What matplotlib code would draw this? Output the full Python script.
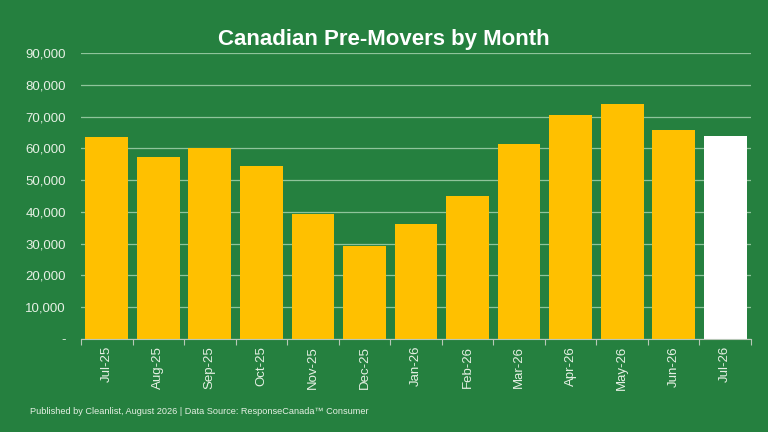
import matplotlib
matplotlib.use("Agg")
import matplotlib.pyplot as plt
from matplotlib.ticker import FuncFormatter, MultipleLocator

months = ["Jul-25", "Aug-25", "Sep-25", "Oct-25", "Nov-25", "Dec-25", "Jan-26",
          "Feb-26", "Mar-26", "Apr-26", "May-26", "Jun-26", "Jul-26"]
movers = [63600, 57300, 60200, 54500, 39300, 29400, 36100,
          45100, 61300, 70500, 73900, 65900, 63800]
highlight = "Jul-26"

BG = "#25803F"
BAR = "#FFC000"
GRID = "#8FC49B"
TXT = "#E6F0E4"

plt.rcParams["font.family"] = ["Liberation Sans", "DejaVu Sans"]

fig = plt.figure(figsize=(7.68, 4.32), dpi=100, facecolor=BG)
ax = fig.add_axes([81/768, 1 - 339/432, (751-81)/768, (339-53)/432])
ax.set_facecolor(BG)

colors = ["white" if m == highlight else BAR for m in months]
x = range(len(months))
ax.bar(x, movers, width=0.83, color=colors, zorder=3)

ax.set_xlim(-0.5, len(months) - 0.5)
ax.set_ylim(0, 90000)
ax.yaxis.set_major_locator(MultipleLocator(10000))
ax.yaxis.set_major_formatter(FuncFormatter(lambda v, p: "-" if v == 0 else f"{int(v):,}"))
ax.grid(axis="y", color=GRID, linewidth=0.9, zorder=0)
ax.set_axisbelow(True)

ax.set_xticks(list(x))
ax.set_xticklabels(months, rotation=90, fontsize=9.5, color=TXT)
ax.tick_params(axis="x", length=0, pad=5)
ax.set_xticks([i - 0.5 for i in range(len(months) + 1)], minor=True)
ax.tick_params(axis="x", which="minor", length=4, color="#B8C8B8", width=0.8)
ax.tick_params(axis="y", length=0, labelsize=9.5, labelcolor=TXT, pad=11)

for s in ["top", "right", "left"]:
    ax.spines[s].set_visible(False)
ax.spines["bottom"].set_color("#B8C8B8")
ax.spines["bottom"].set_linewidth(0.8)
ax.spines["bottom"].set_zorder(4)

fig.text(384/768, 1 - 40/432, "Canadian Pre-Movers by Month", ha="center", va="center",
         fontsize=16, fontweight="bold", color="white")
fig.text(30/768, 1 - 411/432, "Published by Cleanlist, August 2026 | Data Source: ResponseCanada\u2122 Consumer",
         ha="left", va="center", fontsize=6.6, color=TXT)

fig.savefig("out.png", dpi=100, facecolor=BG)
